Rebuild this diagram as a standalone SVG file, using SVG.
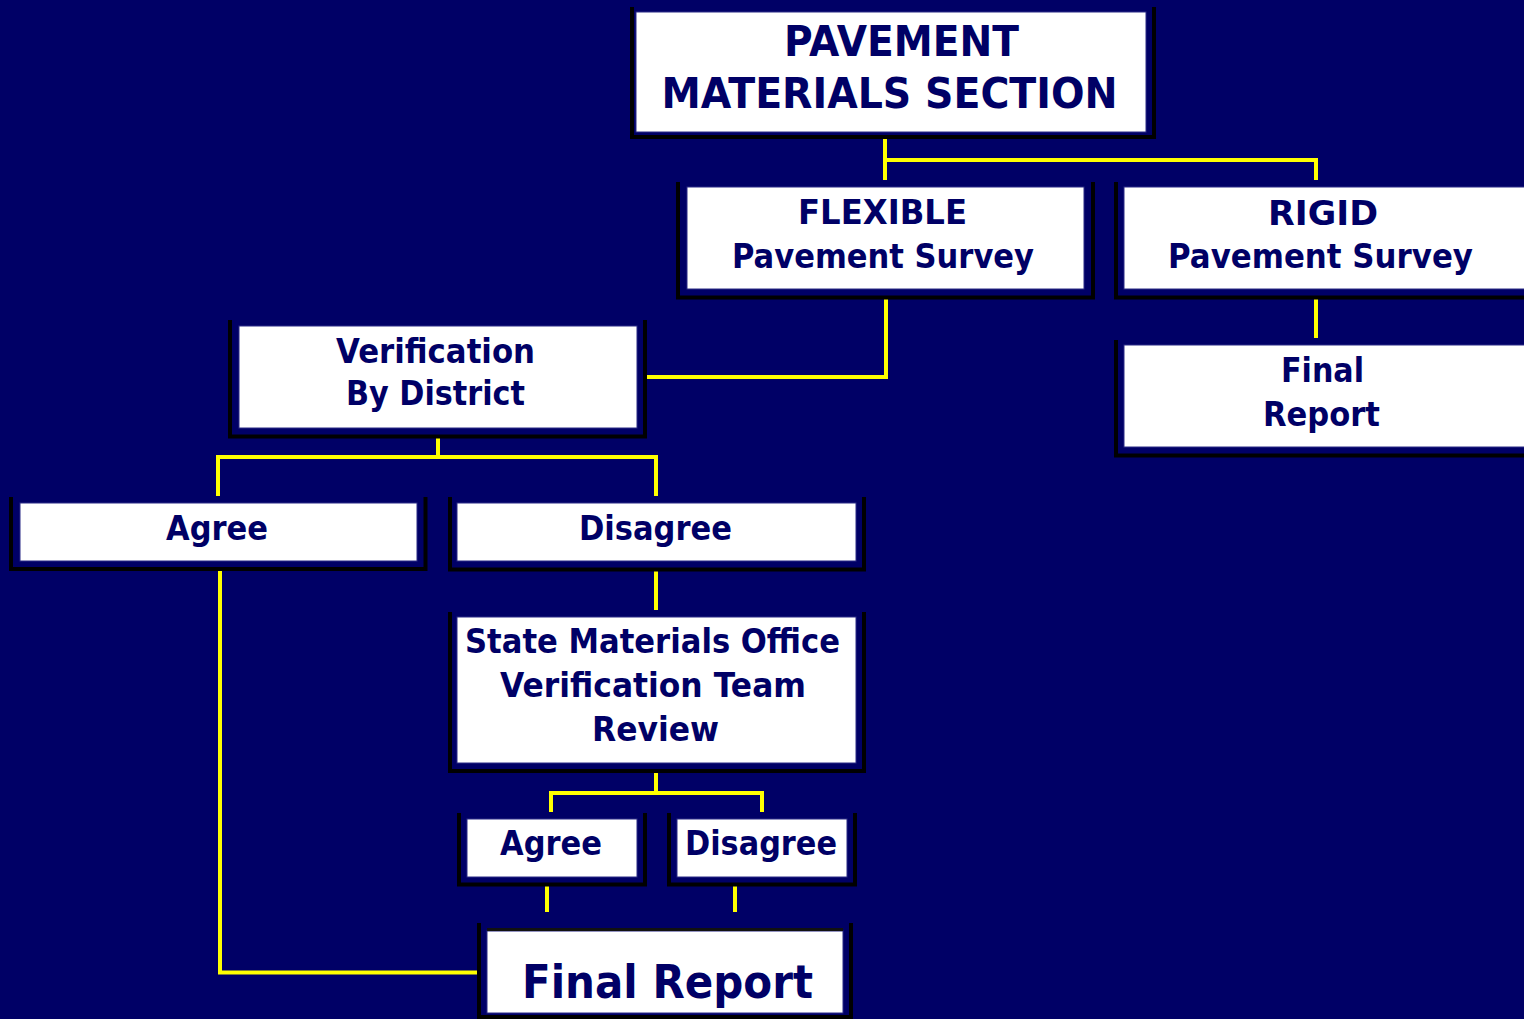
<svg xmlns="http://www.w3.org/2000/svg" width="1524" height="1019" viewBox="0 0 1524 1019">
<style>
.bg{fill:#000066}
.box{fill:#ffffff;stroke:#2b2b85;stroke-width:1}
.frame{fill:none;stroke:#000000;stroke-width:4;stroke-linejoin:miter}
.t{font-family:"DejaVu Sans","Liberation Sans",sans-serif;font-weight:bold;fill:#000066;text-anchor:middle;font-size:33px}
.big{font-size:43px}
.huge{font-size:46px}
.c{fill:none;stroke:#ffff00;stroke-width:4;stroke-linejoin:miter}
</style>
<rect class="bg" x="0" y="0" width="1524" height="1019"/>
<g id="connectors">
<path class="c" d="M885,138 V180 M885,160 H1316 V180"/>
<path class="c" d="M1316,296 V338"/>
<path class="c" d="M886,297 V377 H643"/>
<path class="c" d="M438,436 V457 M218,496 V457 H656 V496"/>
<path class="c" d="M220,568 V972.5 H480"/>
<path class="c" d="M656,568 V610"/>
<path class="c" d="M656,770 V793 M551,812 V793 H762 V812"/>
<path class="c" d="M547,884 V912"/>
<path class="c" d="M735,884 V912"/>
</g>
<g id="pavement-materials-section">
<path class="frame" d="M632,7 V137 H1154 V7"/>
<rect class="box" x="636" y="12" width="510" height="120"/>
<text class="t big" x="901.5" y="56" textLength="235" lengthAdjust="spacingAndGlyphs">PAVEMENT</text>
<text class="t big" x="889.5" y="108" textLength="456" lengthAdjust="spacingAndGlyphs">MATERIALS SECTION</text>
</g>
<g id="flexible">
<path class="frame" d="M678,182 V297.5 H1093 V182"/>
<rect class="box" x="687" y="187" width="397" height="102"/>
<text class="t" x="882.5" y="224" textLength="169" lengthAdjust="spacingAndGlyphs">FLEXIBLE</text>
<text class="t" x="883" y="268" textLength="302" lengthAdjust="spacingAndGlyphs">Pavement Survey</text>
</g>
<g id="rigid">
<path class="frame" d="M1116,182 V297.5 H1540"/>
<rect class="box" x="1124" y="187" width="420" height="102"/>
<text class="t" x="1323" y="225" textLength="110" lengthAdjust="spacingAndGlyphs">RIGID</text>
<text class="t" x="1320.5" y="268" textLength="305" lengthAdjust="spacingAndGlyphs">Pavement Survey</text>
</g>
<g id="final-report-rigid">
<path class="frame" d="M1116,340 V455.5 H1540"/>
<rect class="box" x="1124" y="345" width="420" height="102"/>
<text class="t" x="1322.5" y="382" textLength="83" lengthAdjust="spacingAndGlyphs">Final</text>
<text class="t" x="1321.5" y="426" textLength="117" lengthAdjust="spacingAndGlyphs">Report</text>
</g>
<g id="verification-by-district">
<path class="frame" d="M230,320 V436.5 H645 V320"/>
<rect class="box" x="239" y="326" width="398" height="102"/>
<text class="t" x="435.5" y="363" textLength="199" lengthAdjust="spacingAndGlyphs">Verification</text>
<text class="t" x="435.5" y="405" textLength="179" lengthAdjust="spacingAndGlyphs">By District</text>
</g>
<g id="agree-district">
<path class="frame" d="M11,497 V569 H425.5 V497"/>
<rect class="box" x="20" y="503" width="397" height="58"/>
<text class="t" x="217" y="540" textLength="102" lengthAdjust="spacingAndGlyphs">Agree</text>
</g>
<g id="disagree-district">
<path class="frame" d="M450,497 V569.5 H864 V497"/>
<rect class="box" x="457" y="503" width="399" height="58"/>
<text class="t" x="655.5" y="540" textLength="153" lengthAdjust="spacingAndGlyphs">Disagree</text>
</g>
<g id="state-materials-office">
<path class="frame" d="M450,612 V771 H864 V612"/>
<rect class="box" x="457" y="617" width="399" height="146"/>
<text class="t" x="652.5" y="653" textLength="375" lengthAdjust="spacingAndGlyphs">State Materials Office</text>
<text class="t" x="653" y="697" textLength="306" lengthAdjust="spacingAndGlyphs">Verification Team</text>
<text class="t" x="655.5" y="741" textLength="127" lengthAdjust="spacingAndGlyphs">Review</text>
</g>
<g id="agree-state">
<path class="frame" d="M459,813 V884.5 H645 V813"/>
<rect class="box" x="467" y="819" width="170" height="58"/>
<text class="t" x="551" y="855" textLength="102" lengthAdjust="spacingAndGlyphs">Agree</text>
</g>
<g id="disagree-state">
<path class="frame" d="M669,813 V884.5 H855 V813"/>
<rect class="box" x="677" y="819" width="170" height="58"/>
<text class="t" x="761" y="855" textLength="152" lengthAdjust="spacingAndGlyphs">Disagree</text>
</g>
<g id="final-report">
<path class="frame" d="M479,923 V1017 H851 V923"/>
<rect class="box" x="487" y="931" width="356" height="82"/>
<line x1="487" y1="929.5" x2="843" y2="929.5" stroke="#111111" stroke-width="3"/>
<text class="t huge" x="667.5" y="998" textLength="291" lengthAdjust="spacingAndGlyphs">Final Report</text>
</g>
</svg>
